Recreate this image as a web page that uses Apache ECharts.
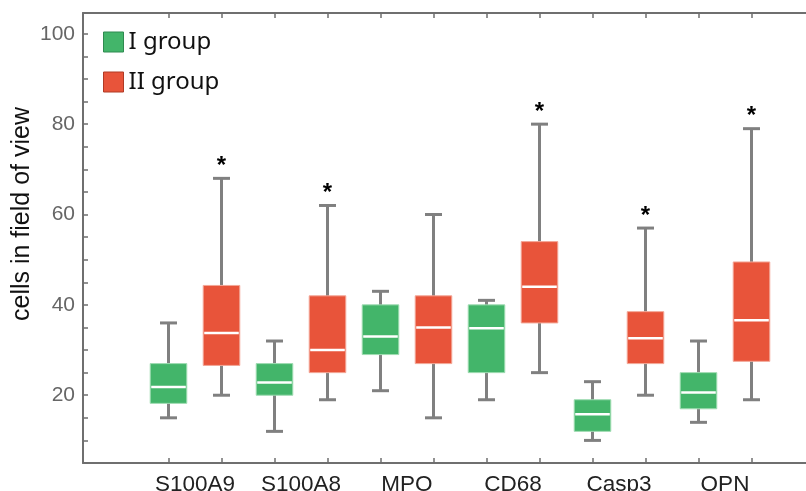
<!DOCTYPE html>
<html>
<head>
<meta charset="utf-8">
<script src="https://cdn.jsdelivr.net/npm/echarts@6/dist/echarts.min.js"></script>
<style>
  html, body { margin: 0; padding: 0; background: #fff; }
  #main { width: 806px; height: 491px; }
</style>
</head>
<body>
<div id="main"></div>
<script>
var categories = ['S100A9', 'S100A8', 'MPO', 'CD68', 'Casp3', 'OPN'];

// group I box stats
var lowI  = [15, 12, 21, 19, 10, 14];
var q1I   = [18.2, 20, 29, 25, 12, 17];
var medI  = [21.8, 22.8, 33, 34.8, 15.8, 20.6];
var q3I   = [27, 27, 40, 40, 19, 25];
var highI = [36, 32, 43, 41, 23, 32];

// group II box stats
var lowII  = [20, 19, 15, 25, 20, 19];
var q1II   = [26.6, 25, 27, 36, 27, 27.5];
var medII  = [33.8, 30, 35, 44, 32.6, 36.6];
var q3II   = [44.3, 42, 42, 54, 38.5, 49.5];
var highII = [68, 62, 60, 80, 57, 79];

// asterisk over group II
var significant = [1, 1, 0, 1, 1, 1];

var yTicks = [20, 40, 60, 80, 100];

var green = '#43b56a', red = '#e8543a';
var whisker = '#808080';
var frame = '#6f6f6f';

function rows(low, q1, med, q3, high, sig) {
    return categories.map(function (c, i) {
        return [i, low[i], q1[i], med[i], q3[i], high[i], sig ? sig[i] : 0];
    });
}

function makeRender(shift, fill, edge) {
    return function (params, api) {
        var i = api.value(0);
        var band = api.size([1, 0])[0];
        var cx = api.coord([i, 0])[0] + shift * band;
        var yLow = api.coord([i, api.value(1)])[1];
        var yQ1 = api.coord([i, api.value(2)])[1];
        var yMed = api.coord([i, api.value(3)])[1];
        var yQ3 = api.coord([i, api.value(4)])[1];
        var yHigh = api.coord([i, api.value(5)])[1];
        var boxW = band * 0.345;
        var capW = band * 0.16;
        var kids = [
            {type: 'line', shape: {x1: cx, y1: yHigh, x2: cx, y2: yLow},
             style: {stroke: whisker, lineWidth: 3}},
            {type: 'line', shape: {x1: cx - capW / 2, y1: yHigh, x2: cx + capW / 2, y2: yHigh},
             style: {stroke: whisker, lineWidth: 3}},
            {type: 'line', shape: {x1: cx - capW / 2, y1: yLow, x2: cx + capW / 2, y2: yLow},
             style: {stroke: whisker, lineWidth: 3}},
            {type: 'rect', shape: {x: cx - boxW / 2, y: yQ3, width: boxW, height: yQ1 - yQ3},
             style: {fill: fill, stroke: edge, lineWidth: 1}},
            {type: 'line', shape: {x1: cx - boxW / 2 + 1, y1: yMed, x2: cx + boxW / 2 - 1, y2: yMed},
             style: {stroke: '#ffffff', lineWidth: 2.5}}
        ];
        if (api.value(6)) {
            kids.push({type: 'text', style: {text: '*', x: cx, y: yHigh - 12, align: 'center',
                verticalAlign: 'middle', fontSize: 24, fontWeight: 'bold',
                fontFamily: 'Liberation Sans', fill: '#000'}});
        }
        return {type: 'group', children: kids};
    };
}

var myChart = echarts.init(document.getElementById('main'));
// one tick slot per box
var boxSlots = ['b1', 'b2', 'b3', 'b4', 'b5', 'b6', 'b7', 'b8', 'b9', 'b10', 'b11', 'b12'];

var tickStyle = {show: true, inside: true, alignWithLabel: true, interval: 0, length: 5,
                 lineStyle: {color: frame, width: 1.5}};
// labels must stay "shown" for alignWithLabel ticks, so blank them instead
var blankLabel = {show: true, interval: 0, formatter: function () { return ''; }};

option = {
    animation: false,
    grid: [
        {left: 83, top: 13, width: 760, height: 450, outerBoundsMode: 'none'},
        {left: 142, top: 13, width: 636, height: 450, outerBoundsMode: 'none'},
        {left: 142, top: 13, width: 636, height: 450, outerBoundsMode: 'none'}
    ],
    legend: {
        orient: 'vertical',
        left: 98, top: 25,
        itemWidth: 20, itemHeight: 20, itemGap: 16,
        icon: 'rect',
        textStyle: {fontSize: 24, color: '#111', fontFamily: 'Noto Sans'},
        data: [
            {name: 'I group', itemStyle: {color: green, borderColor: '#2f8a50', borderWidth: 1}},
            {name: 'II group', itemStyle: {color: red, borderColor: '#b03a25', borderWidth: 1}}
        ]
    },
    graphic: [{
        type: 'text', x: 22, y: 214, rotation: Math.PI / 2,
        style: {text: 'cells in field of view', align: 'center', verticalAlign: 'middle',
                fontSize: 25, fontFamily: 'Liberation Sans', fill: '#111'}
    }],
    xAxis: [
        {gridIndex: 0, type: 'value', min: 0, max: 1, position: 'bottom',
         axisLine: {lineStyle: {color: frame, width: 2}}, axisTick: {show: false},
         axisLabel: {show: false}, splitLine: {show: false}},
        {gridIndex: 0, type: 'value', min: 0, max: 1, position: 'top',
         axisLine: {lineStyle: {color: frame, width: 2}}, axisTick: {show: false},
         axisLabel: {show: false}, splitLine: {show: false}},
        {gridIndex: 1, type: 'category', data: categories, position: 'bottom',
         axisLine: {show: false}, axisTick: {show: false},
         axisLabel: {margin: 10, fontSize: 22.5, color: '#222', fontFamily: 'Liberation Sans'}},
        {gridIndex: 2, type: 'category', data: boxSlots, position: 'bottom',
         axisLine: {show: false}, axisTick: tickStyle, axisLabel: blankLabel},
        {gridIndex: 2, type: 'category', data: boxSlots, position: 'top',
         axisLine: {show: false}, axisTick: tickStyle, axisLabel: blankLabel}
    ],
    yAxis: [
        {gridIndex: 0, type: 'value', min: 5, max: 104.6, interval: 5,
         axisLine: {show: true, lineStyle: {color: frame, width: 2}},
         axisTick: {show: true, inside: true, length: 5, lineStyle: {color: frame, width: 1.5}},
         axisLabel: {margin: 8, fontSize: 21, color: '#666', fontFamily: 'Liberation Sans',
                     formatter: function (v) { return yTicks.indexOf(v) >= 0 ? String(v) : ''; }},
         splitLine: {show: false}},
        {gridIndex: 1, type: 'value', min: 5, max: 104.6, show: false},
        {gridIndex: 2, type: 'value', min: 5, max: 104.6, show: false}
    ],
    series: [
        {name: 'I group', type: 'custom', xAxisIndex: 2, yAxisIndex: 1,
         itemStyle: {color: green},
         renderItem: makeRender(-0.25, green, '#9fdcb2'),
         encode: {x: 0, y: [1, 2, 3, 4, 5]},
         data: rows(lowI, q1I, medI, q3I, highI)},
        {name: 'II group', type: 'custom', xAxisIndex: 2, yAxisIndex: 1,
         itemStyle: {color: red},
         renderItem: makeRender(0.25, red, '#f3a898'),
         encode: {x: 0, y: [1, 2, 3, 4, 5]},
         data: rows(lowII, q1II, medII, q3II, highII, significant)}
    ]
};
myChart.setOption(option);
</script>
</body>
</html>
